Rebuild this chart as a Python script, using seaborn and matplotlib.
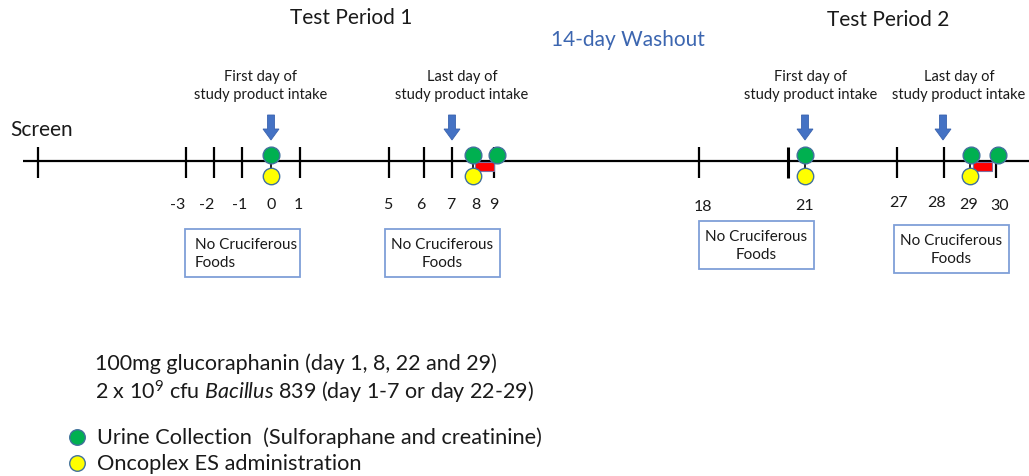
import matplotlib
matplotlib.use("Agg")
import matplotlib.pyplot as plt
import seaborn as sns
from matplotlib.patches import FancyArrow, Rectangle

# ---------------- data ----------------
tick_x = [38, 186, 214, 242, 300, 389, 424, 452, 494, 699, 788, 897, 944, 996]
day_labels = ["-3", "-2", "-1", "0", "1", "5", "6", "7", "8", "9",
              "18", "21", "27", "28", "29", "30"]
day_label_x = [178, 207, 240, 271, 298, 388, 421, 451, 476, 494,
               703, 805, 899, 937, 969, 1000]
day_label_y = [205, 205, 205, 205, 205, 205, 205, 205, 205, 205,
               207, 206, 203, 203, 205, 206]
urine_x = [271, 473, 497, 805, 971, 998]
oncoplex_x = [271, 473, 805, 970]
arrow_x = [271, 452, 805, 943]
washout_bars = [(475, 494), (973, 992)]
period_titles = ["Test Period 1", "14-day Washout", "Test Period 2"]
period_x = [351, 628, 888]
period_y = [18, 40, 20]
intake_labels = ["First day of\nstudy product intake", "Last day of\nstudy product intake",
                 "First day of\nstudy product intake", "Last day of\nstudy product intake"]
intake_x = [261, 462, 811, 959]
box_text = "No Cruciferous\nFoods"
box_left = [185, 385, 699, 894]
box_top = [230, 230, 222, 226]
dose_lines = ["100mg glucoraphanin (day 1, 8, 22 and 29)",
              r"2 x 10$^{9}$ cfu $\mathit{Bacillus}$ 839 (day 1-7 or day 22-29)"]
legend_labels = ["Urine Collection  (Sulforaphane and creatinine)",
                 "Oncoplex ES administration"]

# ---------------- style ----------------
sns.set_theme(style="white")
plt.rcParams['font.family'] = ['Lato', 'DejaVu Sans']
plt.rcParams['mathtext.fontset'] = 'custom'
plt.rcParams['mathtext.rm'] = 'Lato'
plt.rcParams['mathtext.it'] = 'Lato:italic'
plt.rcParams['mathtext.default'] = 'regular'

GREEN = "#00B050"
YELLOW = "#FFFF00"
EDGE = "#41719C"
BLUE = "#4472C4"
TXT = "#1a1a1a"

fig = plt.figure(figsize=(10.29, 4.77), dpi=100)
ax = fig.add_axes([0, 0, 1, 1])
ax.set_xlim(0, 1029)
ax.set_ylim(477, 0)
ax.axis("off")

AXIS_Y = 162
# main timeline
ax.hlines(AXIS_Y, 23, 1029, color="black", lw=1.6, zorder=1)
for x in tick_x:
    lw = 2.2 if x == 788 else 1.6
    ax.vlines(x, 148, 179, color="black", lw=lw, zorder=1)

for lab, x, y in zip(day_labels, day_label_x, day_label_y):
    ax.text(x, y, lab, ha="center", va="center", fontsize=11.5, color=TXT)

ax.text(10, 130, "Screen", ha="left", va="center", fontsize=15, color=TXT)

# connectors between urine & oncoplex markers
for x in oncoplex_x:
    ax.vlines(x, 156, 177, color="black", lw=1.2, zorder=2)

# red bars
for x0, x1 in washout_bars:
    ax.add_patch(Rectangle((x0, 163), x1 - x0, 9, facecolor="#FF0000",
                           edgecolor="#7F6FA0", lw=0.8, zorder=2))

sns.scatterplot(x=urine_x, y=[156] * len(urine_x), color=GREEN, s=145,
                edgecolor=EDGE, linewidth=1.0, ax=ax, zorder=4, legend=False)
sns.scatterplot(x=oncoplex_x, y=[177] * len(oncoplex_x), color=YELLOW, s=140,
                edgecolor=EDGE, linewidth=1.0, ax=ax, zorder=3, legend=False)

# arrows
for x in arrow_x:
    ax.add_patch(FancyArrow(x, 116, 0, 25, width=7, head_width=16, head_length=11,
                            length_includes_head=True, facecolor=BLUE,
                            edgecolor="#3A63AE", lw=0.6, zorder=3))

# period titles
for t, x, y in zip(period_titles, period_x, period_y):
    col = "#3C66B0" if "Washout" in t else TXT
    ax.text(x, y, t, ha="center", va="center", fontsize=15, color=col)

for t, x in zip(intake_labels, intake_x):
    ax.text(x, 86, t, ha="center", va="center", fontsize=10.5, color=TXT,
            linespacing=1.35)

# boxes
for i, (l, tp) in enumerate(zip(box_left, box_top)):
    ax.add_patch(Rectangle((l, tp), 115, 48, facecolor="white", edgecolor="#7F9FD8",
                           lw=1.3, zorder=2))
    if i == 0:
        ax.text(l + 10, tp + 24, box_text, ha="left", va="center", fontsize=11,
                color=TXT, linespacing=1.35, zorder=3)
    else:
        ax.text(l + 57.5, tp + 24, box_text, ha="center", va="center", fontsize=11,
                color=TXT, linespacing=1.35, zorder=3)

# dose lines
for t, y in zip(dose_lines, [364, 392]):
    ax.text(95, y, t, ha="left", va="center", fontsize=15.5, color=TXT)

# legend
sns.scatterplot(x=[77], y=[438], color=GREEN, s=125, edgecolor=EDGE, linewidth=1.0,
                ax=ax, zorder=3, legend=False)
sns.scatterplot(x=[77], y=[464], color=YELLOW, s=125, edgecolor=EDGE, linewidth=1.0,
                ax=ax, zorder=3, legend=False)
for t, y in zip(legend_labels, [438, 464]):
    ax.text(97, y, t, ha="left", va="center", fontsize=15.7, color=TXT)

fig.savefig("out.png", dpi=100)
